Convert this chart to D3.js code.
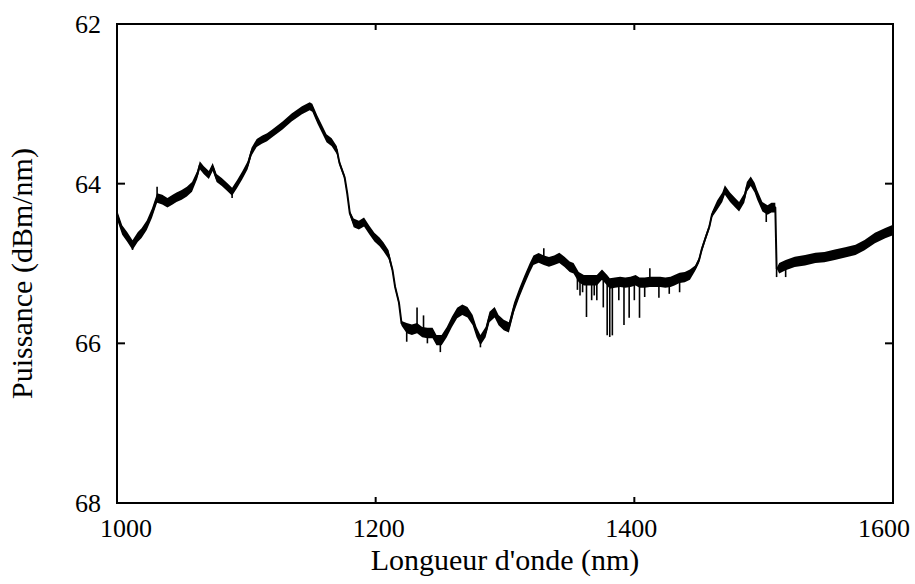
<!DOCTYPE html>
<html>
<head>
<meta charset="utf-8">
<script src="https://cdn.jsdelivr.net/npm/d3@7/dist/d3.min.js"></script>
</head>
<body style="margin:0">
<svg id="chart" width="915" height="584"></svg>
<script>
// Spectral power density trace (wavelength in nm, power in dBm/nm)
const wavelength = [
  1000, 1004, 1008, 1012, 1016, 1019, 1023, 1027, 1031, 1035, 1039, 1043, 1046, 1050,
  1054, 1058, 1062, 1064, 1067, 1071, 1074, 1077, 1081, 1085, 1089, 1093, 1097, 1101,
  1104, 1108, 1112, 1116, 1120, 1128, 1135, 1143, 1149, 1151, 1155, 1159, 1162, 1166,
  1170, 1172, 1176, 1178, 1180, 1183, 1187, 1191, 1195, 1199, 1203, 1206, 1210, 1213,
  1215, 1218, 1220, 1224, 1228, 1232, 1236, 1240, 1244, 1247, 1251, 1255, 1259, 1263,
  1267, 1271, 1275, 1278, 1281, 1285, 1288, 1292, 1295, 1299, 1303, 1307, 1311, 1315,
  1319, 1322, 1326, 1330, 1334, 1338, 1342, 1346, 1350, 1353, 1357, 1361, 1367, 1371,
  1375, 1379, 1381, 1385, 1389, 1393, 1397, 1401, 1404, 1408, 1412, 1416, 1420, 1424,
  1428, 1431, 1435, 1439, 1443, 1447, 1450, 1452, 1455, 1458, 1460, 1464, 1468, 1470,
  1474, 1478, 1481, 1485, 1487, 1490, 1493, 1495, 1499, 1503, 1506, 1509, 1510, 1512,
  1517, 1524, 1532, 1540, 1547, 1555, 1563, 1571, 1578, 1586, 1594, 1600
];
const power = [
  64.39, 64.58, 64.67, 64.77, 64.67, 64.62, 64.52, 64.37, 64.18, 64.20, 64.24, 64.20, 64.17, 64.14,
  64.10, 64.04, 63.89, 63.77, 63.83, 63.89, 63.79, 63.93, 63.98, 64.04, 64.10, 64.00, 63.89, 63.77,
  63.60, 63.49, 63.45, 63.42, 63.37, 63.27, 63.17, 63.08, 63.03, 63.05, 63.20, 63.33, 63.43, 63.48,
  63.58, 63.74, 63.92, 64.12, 64.37, 64.49, 64.52, 64.48, 64.58, 64.67, 64.73, 64.79, 64.89, 65.08,
  65.29, 65.49, 65.75, 65.81, 65.83, 65.81, 65.86, 65.87, 65.87, 65.96, 65.96, 65.86, 65.73, 65.62,
  65.58, 65.61, 65.71, 65.86, 65.96, 65.86, 65.67, 65.61, 65.71, 65.77, 65.80, 65.55, 65.37, 65.21,
  65.06, 64.96, 64.93, 64.96, 64.98, 64.96, 64.93, 64.98, 65.04, 65.06, 65.17, 65.21, 65.21, 65.21,
  65.14, 65.21, 65.25, 65.24, 65.23, 65.24, 65.23, 65.21, 65.24, 65.24, 65.23, 65.23, 65.23, 65.24,
  65.23, 65.21, 65.18, 65.17, 65.14, 65.06, 64.96, 64.83, 64.68, 64.54, 64.39, 64.27, 64.17, 64.08,
  64.17, 64.24, 64.29, 64.18, 64.04, 63.97, 64.05, 64.14, 64.29, 64.33, 64.30, 64.30, 65.06, 65.06,
  65.02, 64.98, 64.96, 64.93, 64.92, 64.89, 64.86, 64.83, 64.77, 64.68, 64.62, 64.58
];

// Half-width of the noise band along the trace, by wavelength range
const bandStart = [1000, 1060, 1170, 1182, 1210, 1221, 1305, 1340, 1445, 1462, 1509, 1511];
const bandEnd   = [1060, 1170, 1182, 1210, 1221, 1305, 1340, 1445, 1462, 1509, 1511, 1600];
const bandHalf  = [0.06, 0.05, 0.03, 0.055, 0.03, 0.065, 0.06, 0.065, 0.035, 0.06, 0.0, 0.065];

// Isolated noise spikes (wavelength, peak power)
const spikeWavelength = [
  1012, 1031, 1089, 1224, 1232, 1237, 1240, 1250, 1281, 1330, 1356, 1358, 1360, 1363,
  1367, 1369, 1371, 1376, 1379, 1381, 1383, 1388, 1392, 1396, 1400, 1404, 1408, 1412,
  1419, 1427, 1435, 1502, 1510, 1517
];
const spikePower = [
  64.83, 64.04, 64.18, 65.98, 65.55, 65.65, 66.00, 66.11, 66.05, 64.81, 65.33, 65.40, 65.36, 65.67,
  65.46, 65.40, 65.46, 65.55, 65.90, 65.92, 65.90, 65.46, 65.77, 65.68, 65.46, 65.68, 65.42, 65.06,
  65.43, 65.38, 65.36, 64.48, 65.17, 65.17
];

// Axis ticks
const xTicks = [1000, 1200, 1400, 1600];
const yTicks = [62, 64, 66, 68];

const xTitle = "Longueur d'onde (nm)";
const yTitle = "Puissance (dBm/nm)";
const fontFamily = "Liberation Serif";

const svg = d3.select("#chart").attr("font-family", fontFamily);
const margin = { left: 117, right: 22, top: 24, bottom: 81 };
const W = 915, H = 584;

const x = d3.scaleLinear().domain([1000, 1600]).range([margin.left, W - margin.right]);
const y = d3.scaleLinear().domain([62, 68]).range([margin.top, H - margin.bottom]);

const points = wavelength.map((w, i) => {
  const k = bandStart.findIndex((s, j) => w >= s && w <= bandEnd[j]);
  return { w, p: power[i], h: k < 0 ? 0.05 : bandHalf[k] };
});

// Noise band
svg.append("path")
  .datum(points)
  .attr("fill", "#000")
  .attr("d", d3.area()
    .x(d => x(d.w))
    .y0(d => y(d.p - d.h))
    .y1(d => y(d.p + d.h)));

// Centre trace
svg.append("path")
  .datum(points)
  .attr("fill", "none")
  .attr("stroke", "#000")
  .attr("stroke-width", 2)
  .attr("stroke-linejoin", "round")
  .attr("d", d3.line().x(d => x(d.w)).y(d => y(d.p)));

// Spikes, from the nearest trace sample to the spike value
const nearest = w => power[d3.minIndex(wavelength, v => Math.abs(v - w))];
svg.append("g")
  .selectAll("line")
  .data(spikeWavelength.map((w, i) => ({ w, p: spikePower[i] })))
  .join("line")
  .attr("x1", d => x(d.w)).attr("x2", d => x(d.w))
  .attr("y1", d => y(nearest(d.w))).attr("y2", d => y(d.p))
  .attr("stroke", "#000")
  .attr("stroke-width", 1.6);

// Frame
svg.append("rect")
  .attr("x", x(1000)).attr("y", y(62))
  .attr("width", x(1600) - x(1000)).attr("height", y(68) - y(62))
  .attr("fill", "none").attr("stroke", "#000").attr("stroke-width", 2);

// Inward ticks on all four sides
const tickG = svg.append("g").attr("stroke", "#000").attr("stroke-width", 2);
xTicks.forEach(t => {
  tickG.append("line").attr("x1", x(t)).attr("x2", x(t)).attr("y1", y(68)).attr("y2", y(68) - 6);
  tickG.append("line").attr("x1", x(t)).attr("x2", x(t)).attr("y1", y(62)).attr("y2", y(62) + 6);
});
yTicks.forEach(t => {
  tickG.append("line").attr("x1", x(1000)).attr("x2", x(1000) + 8).attr("y1", y(t)).attr("y2", y(t));
  tickG.append("line").attr("x1", x(1600)).attr("x2", x(1600) - 8).attr("y1", y(t)).attr("y2", y(t));
});

// Tick labels
const xLabel = d3.scaleLinear().domain(x.domain()).range([x(1000) + 9, x(1600) - 9]);
svg.append("g").selectAll("text")
  .data(xTicks).join("text")
  .attr("x", d => xLabel(d))
  .attr("y", y(68) + 34)
  .attr("text-anchor", "middle")
  .attr("font-size", 26)
  .style("font-family", fontFamily)
  .text(d => d);

svg.append("g").selectAll("text")
  .data(yTicks).join("text")
  .attr("x", x(1000) - 16)
  .attr("y", d => y(d) + 9)
  .attr("text-anchor", "end")
  .attr("font-size", 26)
  .style("font-family", fontFamily)
  .text(d => d);

// Axis titles
svg.append("text")
  .attr("x", (x(1000) + x(1600)) / 2)
  .attr("y", 570)
  .attr("text-anchor", "middle")
  .attr("font-size", 30)
  .style("font-family", fontFamily)
  .text(xTitle);

svg.append("text")
  .attr("transform", `translate(32,${(y(62) + y(68)) / 2 + 10}) rotate(-90)`)
  .attr("text-anchor", "middle")
  .attr("font-size", 30)
  .style("font-family", fontFamily)
  .text(yTitle);
</script>
</body>
</html>
